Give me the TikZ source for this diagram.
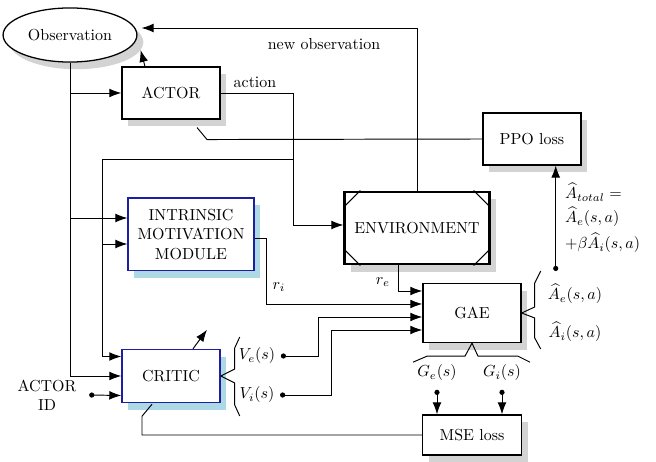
\documentclass[tikz,border=0pt]{standalone}
\usepackage{amsmath}
\usepackage{tikz}
\usetikzlibrary{arrows.meta,positioning,calc,shapes.geometric,shadows}
\usepackage{amssymb}
\usepackage{color}
\definecolor{netblue}{RGB}{30,30,160}
\definecolor{shadeblue}{RGB}{173,216,230}
\definecolor{shadegray}{RGB}{211,211,211}

\begin{document}
\begin{tikzpicture}[x=0.022cm, y=0.022cm, >={Latex[length=7.5pt,width=5.5pt]}, semithick]
\tikzstyle{grayshadow}=[general shadow={fill=shadegray, shadow xshift=4pt, shadow yshift=-4.5pt}]
\tikzstyle{blueshadow}=[general shadow={fill=shadeblue, shadow xshift=4pt, shadow yshift=-4.5pt}]
\tikzstyle{block}=[draw=black, thick, fill=white, align=center, minimum width=2.16cm, minimum height=1.14cm]
\tikzstyle{netblock}=[block, draw=netblue, blueshadow]
\tikzstyle{dotarrow}=[{Circle[length=3.2pt]}->]
\useasboundingbox (0,0) rectangle (656,462);

\node[ellipse, draw, thick, fill=white, minimum width=2.64cm, minimum height=1.19cm, grayshadow] (obs) at (70,427) {Observation};
\node[block, grayshadow]    (actor) at (171,369) {ACTOR};
\node[block, grayshadow]    (ppo)   at (532,323) {PPO loss};
\node[block, grayshadow, line width=1.4pt, minimum width=3.19cm, minimum height=1.6cm] (env) at (417,234) {ENVIRONMENT};
\node[netblock, minimum width=2.77cm, minimum height=1.6cm] (intr) at (191,227.5) {INTRINSIC\\MOTIVATION\\MODULE};
\node[block, grayshadow, minimum height=1.3cm] (gae) at (472,149) {GAE};
\node[netblock, minimum height=1.17cm] (critic) at (171,86) {CRITIC};
\node[block, grayshadow, minimum width=2.18cm, minimum height=0.88cm] (mse) at (472,27) {MSE loss};

% corners of the environment
\draw ($(env.north west)+(0,-17)$) -- ($(env.north west)+(17,0)$);
\draw ($(env.north east)+(0,-17)$) -- ($(env.north east)+(-17,0)$);
\draw ($(env.south west)+(0,17)$) -- ($(env.south west)+(17,0)$);
\draw ($(env.south east)+(0,17)$) -- ($(env.south east)+(-17,0)$);

\node (actlbl)    at (255,380) {action};
\node (newobslbl) at (324,418) {new observation};
\node (ri) at (279,175) {$r_i$};
\node (re) at (383,180) {$r_e$};
\node (ve) at (257,106) {$V_e(s)$};
\node (vi) at (257,67)  {$V_i(s)$};
\node[align=center] (aid) at (47,67) {ACTOR\\ID};
\node (ae) at (575,168) {$\widehat{A}_e(s,a)$};
\node (ai) at (575,130) {$\widehat{A}_i(s,a)$};
\node[align=left, anchor=west, inner sep=1pt] (atotal) at (563,244)
  {$\widehat{A}_{total} =$\\[3pt] $\widehat{A}_e(s,a)$\\[3pt] $+\beta\widehat{A}_i(s,a)$};
\node (ge) at (437,89) {$G_e(s)$};
\node (gi) at (502,89) {$G_i(s)$};

\coordinate (intrtop) at ($(intr.west)+(0,16.5)$);
\coordinate (intrbot) at ($(intr.west)+(0,-9.5)$);
\coordinate (crittop) at ($(critic.west)+(0,19.5)$);
\coordinate (critbot) at ($(critic.west)+(0,-19.5)$);
\coordinate (envin)   at ($(env.west)+(0,3)$);
\coordinate (branch)  at ($(actor.east)+(73,-66)$);
\coordinate (branchdown) at ($(branch)+(-191,0)$);
\coordinate (adot)    at ($(gae.east)+(34,42)$);

% observation
\draw[->] (obs.south) |- (critic.west);
\draw[->] (obs.south |- actor.west) -- (actor.west);
\draw[->] (obs.south |- intrtop) -- (intrtop);
\draw[->] ($(actor.north)+(-26,0)$) -- ($(obs.east)+(3,-15)$);
\draw[->] (env.north) |- ($(obs.east)+(4,7)$);

% action
\draw[->] (actor.east) -- ++(73,0) |- (envin);
\draw[->] (branch) -- (branchdown) |- (crittop);
\draw[->] (branchdown |- intrbot) -- (intrbot);
\draw ($(actor.south)+(26,-8)$) -- ++(10,-12) -- (ppo.west);

% rewards and values
\draw[->] ($(intr.east)+(0,-3.5)$) -- ++(12,0) |- ($(gae.west)+(0,9)$);
\draw[->] ($(env.south)+(-19,0)$) |- ($(gae.west)+(0,22)$);
\draw[dotarrow] (ve.east) -| ($(gae.west)+(-104,-4)$) -- ($(gae.west)+(0,-4)$);
\draw[dotarrow] (vi.east) -| ($(gae.west)+(-91,-17)$) -- ($(gae.west)+(0,-17)$);
\draw[dotarrow] ($(aid.east)+(7,0)$) -- (critbot);
\draw[->] ($(critic.north)+(22,0)$) -- ++(14,19);
\draw ($(critic.south)+(-19,-1)$) -- ++(-10,-12) |- (mse.west);

% braces
\draw (critic.east) -- ++(14,7) -- ++(0,21) -- ++(5,11);
\draw (critic.east) -- ++(14,-7) -- ++(0,-22) -- ++(5,-11);
\draw (gae.east) -- ++(13,6) -- ++(0,24) -- ++(6,12);
\draw (gae.east) -- ++(13,-5) -- ++(0,-20) -- ++(6,-11);
\draw (gae.south) -- ++(-7,-13) -- ++(-38,0) -- ++(-14,-6);
\draw (gae.south) -- ++(6,-13) -- ++(40,0) -- ++(12,-6);

% losses
\draw[dotarrow] (adot) -- (adot |- ppo.south);
\draw[dotarrow] ($(ge.south)+(0,-3)$) -- (ge.south |- mse.north);
\draw[dotarrow] ($(gi.south)+(0,-3)$) -- (gi.south |- mse.north);
\end{tikzpicture}
\end{document}
